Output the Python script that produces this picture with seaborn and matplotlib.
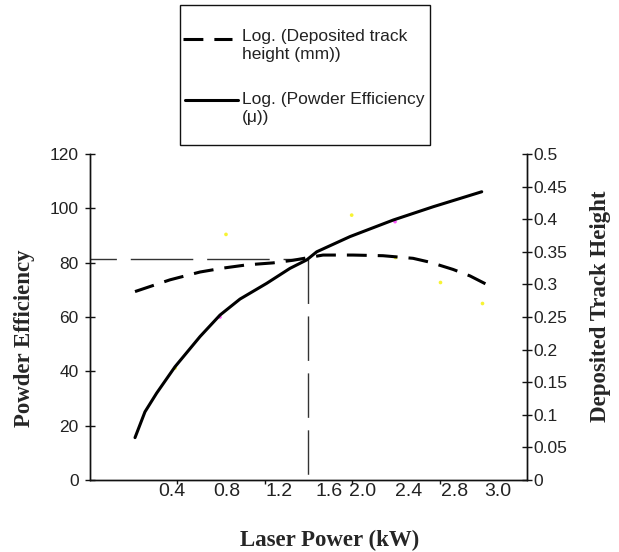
import matplotlib.pyplot as plt
import seaborn as sns
from matplotlib.lines import Line2D
from matplotlib.patches import Rectangle

# x is measured in tick intervals (axis runs 0..5, tick marks at 1..4);
# the printed kW labels in the original do not line up with the ticks
eff_x = [0.515, 0.629, 0.763, 0.973, 1.259, 1.487, 1.716, 2.022, 2.288,
         2.479, 2.594, 2.975, 3.470, 3.928, 4.482]
eff_y = [15.6, 25.1, 32.0, 41.7, 52.8, 60.7, 66.6, 72.4, 77.9,
         81.0, 84.0, 89.6, 95.7, 100.6, 106.1]

height_x = [0.515, 0.915, 1.259, 1.522, 1.796, 2.094, 2.323, 2.666, 3.009,
            3.352, 3.696, 3.890, 4.153, 4.348, 4.611]
height_y = [0.289, 0.307, 0.319, 0.325, 0.330, 0.333, 0.337, 0.345, 0.345,
            0.344, 0.340, 0.334, 0.323, 0.313, 0.295]

# faint raw data points left visible behind the trend lines
eff_pts_x = [0.973, 1.487, 1.556, 2.994, 3.490]
eff_pts_y = [41.2, 60.0, 90.4, 97.5, 95.1]
eff_pts_c = ["#f5f000", "#ff30ff", "#f5f000", "#f5f000", "#ff30ff"]
height_pts_x = [3.490, 4.005, 4.482]
height_pts_y = [0.3425, 0.304, 0.271]

# crossing point of the two trend lines
ref_x = 2.49
ref_y = 81.2

x_ticks = [1, 2, 3, 4]
x_label_pos = [0.938, 1.568, 2.162, 2.735, 3.124, 3.650, 4.176, 4.668]
x_labels = ["0.4", "0.8", "1.2", "1.6", "2.0", "2.4", "2.8", "3.0"]
left_ticks = [0, 20, 40, 60, 80, 100, 120]
right_ticks = [0, 0.05, 0.1, 0.15, 0.2, 0.25, 0.3, 0.35, 0.4, 0.45, 0.5]
right_labels = ["0", "0.05", "0.1", "0.15", "0.2", "0.25", "0.3",
                "0.35", "0.4", "0.45", "0.5"]

sns.set_style("ticks")
plt.rcParams["font.family"] = ["Liberation Sans", "DejaVu Sans"]

W, H = 619, 552


def fx(px):
    return px / W


def fy(py):
    return 1 - py / H


curve_dash = (0, (6.5, 3.6))
label_font = dict(family="Liberation Serif", weight="bold", size=16.5)

fig = plt.figure(figsize=(W / 100, H / 100), dpi=100)
ax = fig.add_axes([fx(90), fy(480), 437 / W, 326 / H])
ax2 = ax.twinx()

# reference lines to the crossing point
ax.plot([0, ref_x], [ref_y, ref_y], color="#333333", lw=1.0,
        linestyle=(26, (45, 10)), zorder=2)
ax.plot([ref_x, ref_x], [ref_y, 0], color="#333333", lw=1.0,
        linestyle=(0, (32, 9)), zorder=2)

sns.scatterplot(x=eff_pts_x, y=eff_pts_y, ax=ax, c=eff_pts_c, s=7,
                linewidth=0, alpha=0.8, zorder=3)
sns.scatterplot(x=height_pts_x, y=height_pts_y, ax=ax2, color="#f5f000",
                s=7, linewidth=0, alpha=0.8, zorder=3)

sns.lineplot(x=eff_x, y=eff_y, ax=ax, color="black", lw=2.2, sort=False,
             errorbar=None, zorder=4)
sns.lineplot(x=height_x, y=height_y, ax=ax2, color="black", lw=2.2,
             linestyle=curve_dash, sort=False, errorbar=None, zorder=4)

ax.set_xlim(0, 5)
ax.set_ylim(0, 120)
ax2.set_ylim(0, 0.5)

ax.set_xticks(x_ticks)
ax.set_xticklabels([])
ax.set_xticks(x_label_pos, labels=x_labels, minor=True)
ax.tick_params(axis="x", which="major", direction="out", length=3,
               width=1, color="#111111")
ax.tick_params(axis="x", which="minor", length=0, pad=2, labelsize=14,
               labelcolor="#222222")

ax.set_yticks(left_ticks)
ax.tick_params(axis="y", direction="inout", length=6.5, width=1, pad=5,
               labelsize=12.5, labelcolor="#222222", color="#111111")
ax2.set_yticks(right_ticks, labels=right_labels)
ax2.tick_params(axis="y", direction="inout", length=6.5, width=1, pad=1.5,
                labelsize=12.5, labelcolor="#222222", color="#111111")

for a in (ax, ax2):
    a.spines["top"].set_visible(False)
    for s in ("left", "right", "bottom"):
        a.spines[s].set_linewidth(1.0)
        a.spines[s].set_color("#111111")

ax.set_xlabel("Laser Power (kW)", fontdict=label_font)
ax.xaxis.set_label_coords(0.549, -0.153)
ax.set_ylabel("Powder Efficiency", fontdict=label_font)
ax.yaxis.set_label_coords(-0.126, 0.436)
ax2.set_ylabel("Deposited Track Height", fontdict=label_font)
ax2.yaxis.set_label_coords(1.144, 0.534)

# legend box above the plot, drawn by hand to keep the handles on the first line
fig.add_artist(Rectangle((fx(180), fy(145)), fx(430) - fx(180), fy(5) - fy(145),
                         transform=fig.transFigure, fill=False,
                         edgecolor="#111111", lw=1.0))
fig.add_artist(Line2D([fx(183), fx(232)], [fy(39), fy(39)],
                      transform=fig.transFigure, color="black", lw=2.2,
                      linestyle=curve_dash))
fig.add_artist(Line2D([fx(185), fx(238)], [fy(100), fy(100)],
                      transform=fig.transFigure, color="black", lw=2.2))
fig.text(fx(242), fy(29), "Log. (Deposited track\nheight (mm))",
         ha="left", va="top", fontsize=12.5, linespacing=1.25, color="#222222")
fig.text(fx(242), fy(92), "Log. (Powder Efficiency\n(μ))",
         ha="left", va="top", fontsize=12.5, linespacing=1.25, color="#222222")

fig.savefig("out.png", dpi=100)
